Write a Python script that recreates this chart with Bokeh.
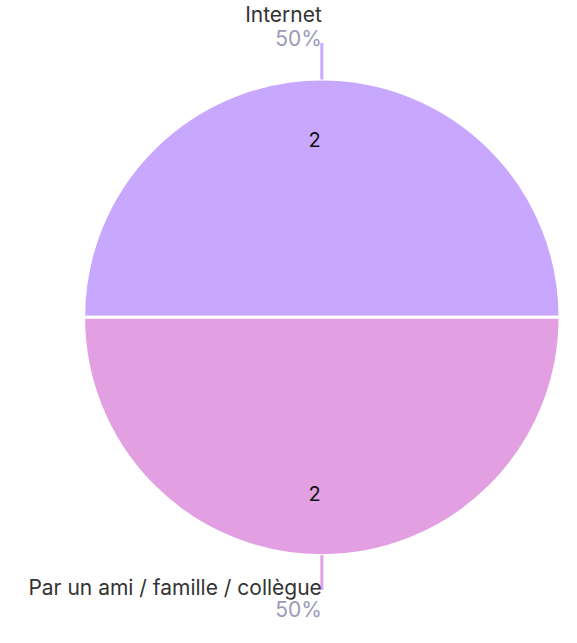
import math
from bokeh.plotting import figure
from bokeh.models import Range1d
from bokeh.core.properties import value
from bokeh.embed import file_html
from bokeh.resources import INLINE

labels = ["Internet", "Par un ami / famille / collègue"]
counts = [2, 2]
colors = ["#C8A8FF", "#E2A0E2"]

W, H = 561, 627
REF_W, REF_H = 577, 643
# data coordinates = reference pixels (y flipped), scaled to fit the window
p = figure(width=W, height=H, output_backend="svg", toolbar_location=None,
           x_range=Range1d(0, REF_W), y_range=Range1d(-8, REF_H),
           min_border=0, outline_line_color=None)
p.axis.visible = False
p.grid.visible = False
p.background_fill_color = "white"
p.border_fill_color = "white"

cx, cy, R = 330.5, REF_H - 329, 245
total = sum(counts)
font = value("Inter")
fs = "21px"

start = 0.0
for lab, c, col in zip(labels, counts, colors):
    frac = c / total
    end = start + frac * 2 * math.pi
    p.wedge(x=[cx], y=[cy], radius=R, start_angle=start, end_angle=end,
            fill_color=col, line_color="white", line_width=3)
    mid = (start + end) / 2
    dx, dy = math.cos(mid), math.sin(mid)
    # value label inside slice
    p.text(x=[cx + dx * R * 0.75 - 7.5], y=[cy + dy * R * 0.75 + 1], text=[str(c)],
           text_font=font, text_font_size="20px", text_color="#111111",
           text_align="center", text_baseline="middle")
    # leader line
    r0, r1 = R + 2, (R + 40 if dy > 0 else R + 38)
    lx0, ly0 = cx + dx * r0, cy + dy * r0
    lx1, ly1 = cx + dx * r1, cy + dy * r1
    p.segment(x0=[lx0], y0=[ly0], x1=[lx1], y1=[ly1], line_color=col, line_width=3)
    pct = f"{round(frac * 100)}%"
    if dy > 0:
        p.text(x=[lx1], y=[ly1 + 29], text=[lab], text_font=font, text_font_size=fs,
               text_color="#333333", text_align="right", text_baseline="middle")
        p.text(x=[lx1], y=[ly1 + 5], text=[pct], text_font=font, text_font_size=fs,
               text_color="#9c9abb", text_align="right", text_baseline="middle")
    else:
        p.text(x=[lx1], y=[ly1 + 3], text=[lab], text_font=font, text_font_size=fs,
               text_color="#333333", text_align="right", text_baseline="middle")
        p.text(x=[lx1], y=[ly1 - 20], text=[pct], text_font=font, text_font_size=fs,
               text_color="#9c9abb", text_align="right", text_baseline="middle")
    start = end

open("out.html", "w").write(file_html(p, INLINE))
